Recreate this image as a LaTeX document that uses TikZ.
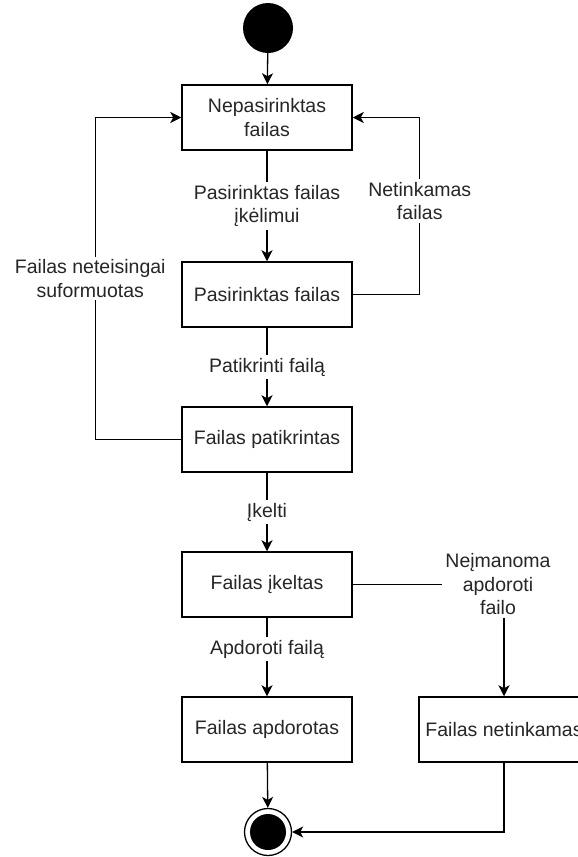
\documentclass[tikz,border=0pt]{standalone}
\usepackage{fontspec}
\setmainfont{Liberation Sans}
\usetikzlibrary{arrows.meta}
\begin{document}
\begin{tikzpicture}[x=1pt,y=-1pt,
  txt/.style={font=\fontsize{19.5}{23.5}\selectfont, text=black!85, align=center},
  statebox/.style={txt, draw=black, line width=1.5pt, minimum width=170pt,
    minimum height=65pt, inner sep=0pt},
  link/.style={line width=1.3pt},
  flow/.style={link, -{Stealth[length=11pt,width=11pt,inset=3pt]}},
  lbl/.style={txt, fill=white, inner sep=3pt}]
\useasboundingbox (0,0) rectangle (578,857);
\clip (0,0) rectangle (578,857);
\fill[white] (0,0) rectangle (578,857);

% initial and final pseudo-states
\node[circle, fill=black, minimum size=50pt, inner sep=0pt] (start) at (268,28) {};
\node[circle, draw=black, line width=1.3pt, minimum size=47pt, inner sep=0pt] (end) at (268,832) {};
\fill[black] (end.center) circle (18pt);

% states
\node[statebox] (b1) at (267,117.5) {Nepasirinktas\\failas};
\node[statebox] (b2) at (267,294.5) {Pasirinktas failas};
\node[statebox] (b3) at (267,439.5) {Failas patikrintas};
\node[statebox] (b4) at (267,584.5) {Failas įkeltas};
\node[statebox] (b5) at (267,729.5) {Failas apdorotas};
\node[statebox] (b6) at (504,729.5) {Failas netinkamas};

% transitions
\draw[flow] (start) -- (b1);
\draw[flow] (b1) -- node[lbl] {Pasirinktas failas\\įkėlimui} (b2);
\draw[flow] (b2) -- node[lbl] {Patikrinti failą} (b3);
\draw[flow] (b3) -- node[lbl] {Įkelti} (b4);
\draw[flow] (b4) -- node[lbl, pos=0.4] {Apdoroti failą} (b5);
\draw[flow] (b5) -- (end);

\draw[flow] (b3.west) -- ++(-86,0) |- node[lbl, pos=0.25, xshift=-5pt] {Failas neteisingai\\suformuotas} (b1.west);
\draw[flow] (b2.east) -- ++(67,0) |- node[lbl, pos=0.264] {Netinkamas\\failas} (b1.east);
\draw[flow] (b4.east) -| node[lbl, pos=0.5, xshift=-6pt] {Neįmanoma\\apdoroti\\failo} (b6.north);
\draw[flow] (b6.south) |- (end.east);
\end{tikzpicture}
\end{document}
